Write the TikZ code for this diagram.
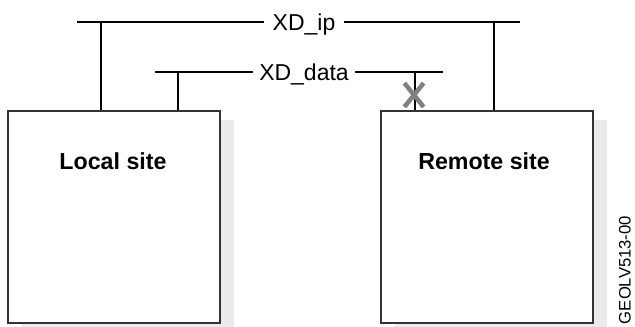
\documentclass[tikz,border=0pt]{standalone}
\usepackage{fontspec}
\setmainfont{Liberation Sans}
\usetikzlibrary{positioning,shadows,shapes.misc}

\begin{document}
\begin{tikzpicture}[x=0.75pt,y=-0.75pt,
                    line width=1.3pt,
                    site node/.style={rectangle,draw=black!80,fill=white,
                      minimum width=159pt,minimum height=159pt,
                      drop shadow={shadow xshift=10.5pt,shadow yshift=-6.75pt,fill=black!8,opacity=1}},
                    site label/.style={font=\fontsize{17.4}{20}\selectfont\bfseries},
                    bus label/.style={font=\fontsize{17.25}{20}\selectfont,
                      text height=12.4pt,text depth=0pt,inner xsep=6pt},
                    cut node/.style={cross out,draw=black!50,line width=3.4pt,
                      minimum width=11pt,minimum height=14.5pt,inner sep=0pt}
                   ]
    \useasboundingbox (0,0) rectangle (635,326);
    % the two sites
    \node[site node] (local) at (114,217) {};
    \node[site node] (remote) at (487,217) {};
    \node[site label] (locallbl) at (113,161) {Local site};
    \node[site label] (remotelbl) at (484,161) {Remote site};
    % the two buses
    \coordinate (ipW) at (77,22);
    \coordinate (ipE) at (520,22);
    \coordinate (dataW) at (155,72);
    \coordinate (dataE) at (443,72);
    \node[bus label] (ip) at (304,22) {XD\_ip};
    \node[bus label,inner xsep=4pt] (data) at (304,72) {XD\_data};
    \draw (ipW) -- (ip) (ip) -- (ipE);
    \draw (dataW) -- (data) (data) -- (dataE);
    % taps down to the sites
    \coordinate (ipL) at (101,22);
    \coordinate (ipR) at (494,22);
    \coordinate (dataL) at (178,72);
    \coordinate (dataR) at (415,72);
    \draw (ipL) -- (ipL |- local.north);
    \draw (dataL) -- (dataL |- local.north);
    \draw (ipR) -- (ipR |- remote.north);
    \draw (dataR) -- (dataR |- remote.north);
    \node[cut node] (cut) at (414,95) {}; % broken link
    \node[rotate=90,inner sep=0pt,font=\fontsize{12.5}{14}\selectfont] (figid) at (625,270) {GEOLV513-00};
\end{tikzpicture}
\end{document}
